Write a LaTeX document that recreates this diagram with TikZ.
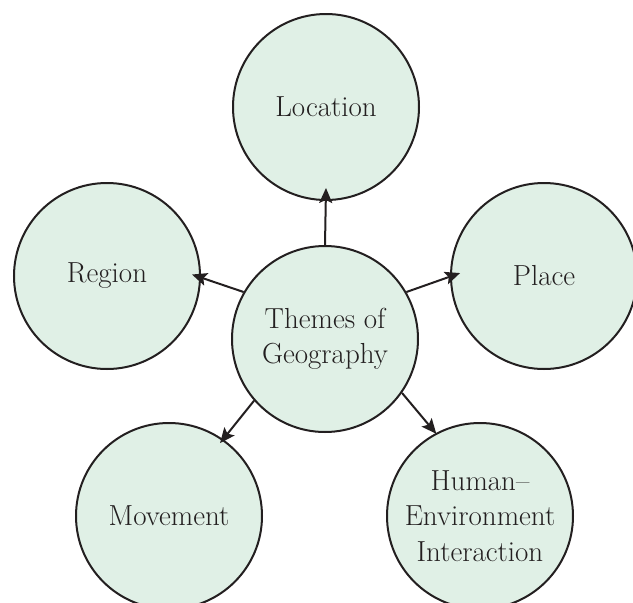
\documentclass[tikz,border=0pt]{standalone}
\usepackage{fontspec}
\usetikzlibrary{arrows.meta,calc}
\definecolor{mint}{RGB}{224,240,230}
\definecolor{ink}{RGB}{35,31,32}
\begin{document}
\begin{tikzpicture}[x=1pt,y=1pt,
  bubble/.style={circle,draw=ink,line width=2pt,fill=mint,minimum size=186pt,inner sep=0pt,align=center,font=\fontsize{29}{35.5}\selectfont,text=ink},
  link/.style={draw=ink,line width=2pt,-{Stealth[length=15pt,width=13pt,inset=3pt]}}]
\useasboundingbox (0,0) rectangle (633,-603);
\node[bubble] (C) at (325,-339) {Themes of\\Geography};
\node[bubble] (L) at (326,-107) {Location};
\node[bubble] (R) at (107,-276) {Region};
\node[bubble] (P) at (544,-276) {Place};
\node[bubble] (M) at (169,-516) {Movement};
\node[bubble] (H) at (480,-516) {Human–\\Environment\\Interaction};
\coordinate (Lend) at ($(L.center)+(270:81)$);
\coordinate (Rend) at ($(R.center)+(1:85)$);
\coordinate (Pend) at ($(P.center)+(178:84)$);
\coordinate (Mend) at ($(M.center)+(55:89)$);
\coordinate (Hend) at ($(H.center)+(118:93)$);
\draw[link] (C.90) -- (Lend);
\draw[link] (C.150) -- (Rend);
\draw[link] (C.30) -- (Pend);
\draw[link] (C.221) -- (Mend);
\draw[link] (C.325) -- (Hend);
\end{tikzpicture}
\end{document}
